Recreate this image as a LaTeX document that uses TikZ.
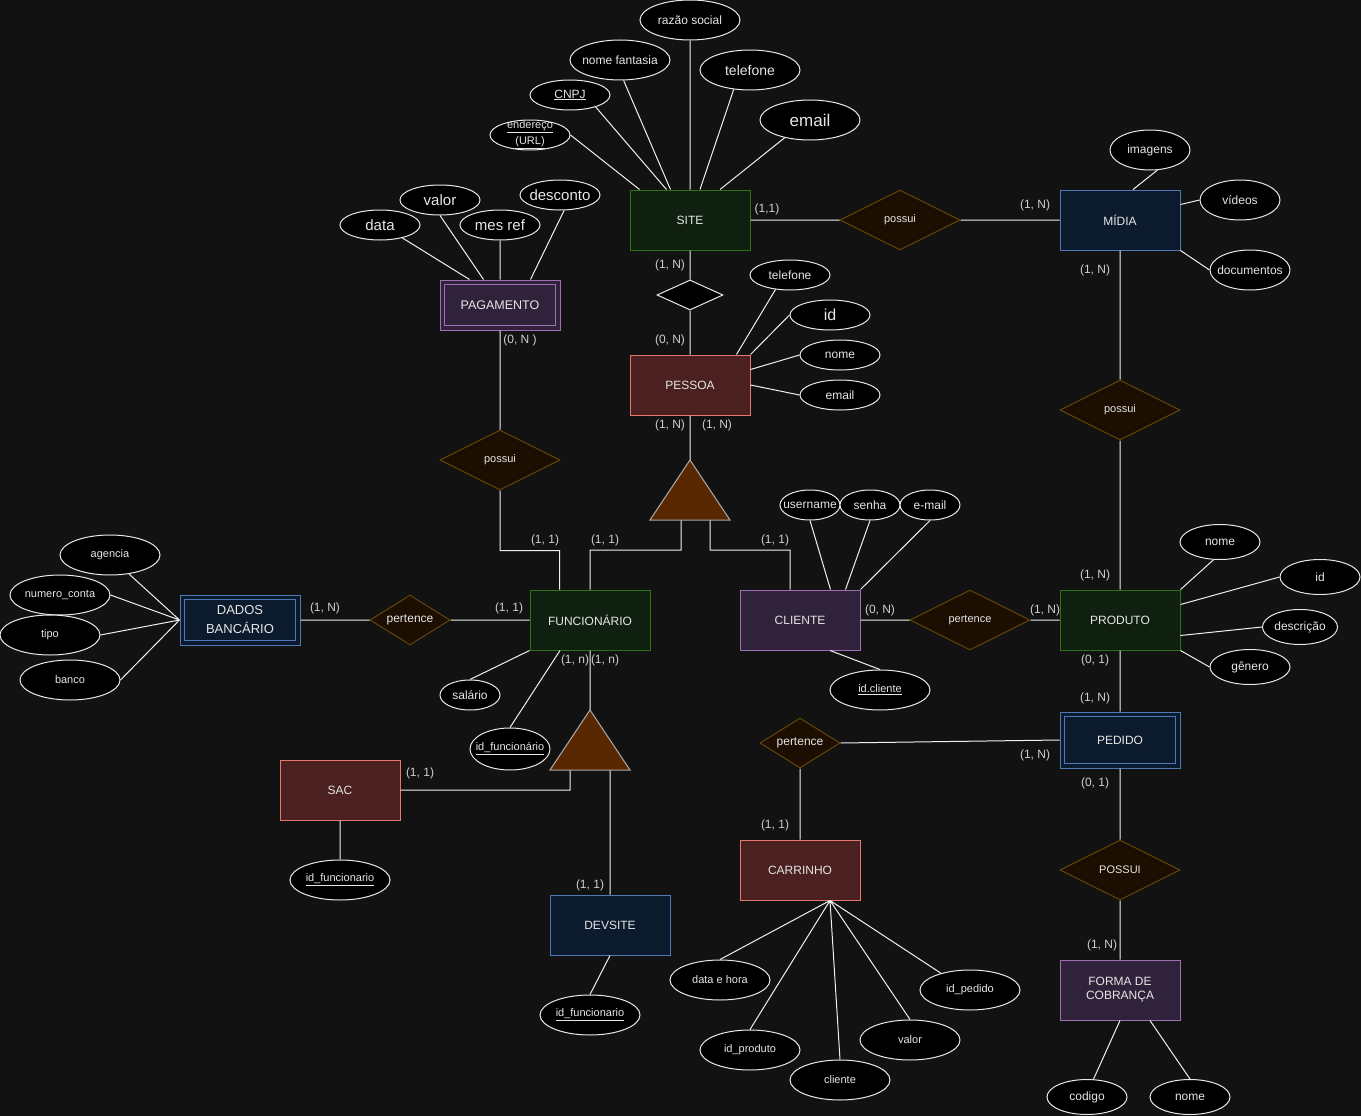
\documentclass[tikz,border=0pt]{standalone}
\usepackage{fontspec}
\setmainfont{Liberation Sans}
\usetikzlibrary{shapes.geometric}

\definecolor{bg}{HTML}{121212}
\definecolor{wire}{HTML}{F0F0F0}
\definecolor{ink}{HTML}{E6E6E6}
\definecolor{card}{HTML}{D0D0D0}
\definecolor{ellline}{HTML}{E8E8E8}
\definecolor{gfill}{HTML}{102010}\definecolor{gline}{HTML}{2D7314}
\definecolor{bfill}{HTML}{0C1A2E}\definecolor{bline}{HTML}{5078B4}
\definecolor{rfill}{HTML}{4A2020}\definecolor{rline}{HTML}{E6786E}
\definecolor{pfill}{HTML}{30223A}\definecolor{pline}{HTML}{A06EB4}
\definecolor{relfill}{HTML}{1C0E00}\definecolor{relline}{HTML}{64460A}
\definecolor{trifill}{HTML}{5A2800}\definecolor{triline}{HTML}{A8A8A8}

\newcommand{\fs}[1]{\fontsize{#1}{#1}\selectfont}

\begin{document}
\begin{tikzpicture}[x=1pt,y=-1pt,
  every node/.style={font=\fs{12}, text=ink},
  wireline/.style={draw=wire, line width=1pt},
  ent/.style={rectangle, line width=1pt, minimum width=120, minimum height=60, inner sep=0pt, align=center},
  entg/.style={ent, draw=gline, fill=gfill},
  entb/.style={ent, draw=bline, fill=bfill},
  entr/.style={ent, draw=rline, fill=rfill},
  entp/.style={ent, draw=pline, fill=pfill},
  attr/.style 2 args={ellipse, draw=ellline, fill=black, line width=1pt, inner sep=0pt, minimum width=#1, minimum height=#2},
  atext/.style={text=ink, inner sep=0pt},
  rel/.style 2 args={diamond, draw=relline, fill=relfill, line width=1pt, inner sep=0pt, minimum width=#1, minimum height=#2},
  tri/.style={draw=triline, fill=trifill, line width=1pt},
  cardlbl/.style={text=card, inner sep=0pt}
]
\fill[bg] (0,0) rectangle (1361,1116);
\useasboundingbox (0,0) rectangle (1361,1116);

% ---------- entities ----------
\node[entg] (site) at (690,220) {SITE};
\node[entb] (midia) at (1120,220) {MÍDIA};
\node[entr] (pessoa) at (690,385) {PESSOA};
\node[entp, minimum height=50, font=\fs{12.5}] (pag) at (500,305) {PAGAMENTO};
\node[entg] (func) at (590,620) {FUNCIONÁRIO};
\node[entp] (cliente) at (800,620) {CLIENTE};
\node[entg] (produto) at (1120,620) {PRODUTO};
\node[entb, minimum height=50] (dados) at (240,620) {\fs{13}DADOS\\[7pt]\fs{13}BANCÁRIO};
\node[entb, minimum height=56] (pedido) at (1120,740) {PEDIDO};
\node[entr] (sac) at (340,790) {SAC};
\node[entb] (dev) at (610,925) {DEVSITE};
\node[entr] (carr) at (800,870) {CARRINHO};
\node[entp] (forma) at (1120,990) {FORMA DE\\[2pt]COBRANÇA};

% inner borders of the weak entities
\draw[pline, line width=1pt] ([shift={(5pt,-5pt)}]pag.north west) rectangle ([shift={(-5pt,5pt)}]pag.south east);
\draw[bline, line width=1pt] ([shift={(5pt,-5pt)}]dados.north west) rectangle ([shift={(-5pt,5pt)}]dados.south east);
\draw[bline, line width=1pt] ([shift={(5pt,-5pt)}]pedido.north west) rectangle ([shift={(-5pt,5pt)}]pedido.south east);

% ---------- relationships ----------
\node[rel={120}{60}, label={[atext,font=\fs{11}]center:possui}] (possui1) at (900,220) {};
\node[rel={120}{60}, label={[atext,font=\fs{11}]center:possui}] (possui2) at (1120,410) {};
\node[rel={120}{60}, label={[atext,font=\fs{11}]center:possui}] (possuiPg) at (500,460) {};
\node[rel={120}{60}, label={[atext,font=\fs{11}]center:POSSUI}] (possui3) at (1120,870) {};
\node[rel={120}{60}, label={[atext,font=\fs{11}]center:pertence}] (pert2) at (970,620) {};
\node[rel={80}{50}, label={[atext]center:pertence}] (pert1) at (410,620) {};
\node[rel={80}{50}, label={[atext]center:pertence}] (pert3) at (800,743) {};
\node[diamond, draw=ellline, fill=black, line width=1pt, inner sep=0pt, minimum width=66, minimum height=30] (dia) at (690,295) {};

% ---------- specialisation triangles ----------
\coordinate (t1a) at (690,460);
\coordinate (t1l) at (650,520);
\coordinate (t1r) at (730,520);
\coordinate (t1fl) at (681,520);
\coordinate (t1fr) at (710,520);
\coordinate (t2a) at (590,710);
\coordinate (t2l) at (550,770);
\coordinate (t2r) at (630,770);
\coordinate (t2fl) at (570,770);
\coordinate (t2fr) at (610,770);

% ---------- attributes ----------
\node[attr={100}{40}, label={[atext]center:razão social}] (razao) at (690,20) {};
\node[attr={100}{40}, label={[atext]center:nome fantasia}] (fantasia) at (620,60) {};
\node[attr={100}{40}, label={[atext,font=\fs{14}]center:telefone}] (tel1) at (750,70) {};
\node[attr={80}{30}, label={[atext]center:\underline{CNPJ}}] (cnpj) at (570,95) {};
\node[attr={80}{30}, label={[atext,font=\fs{11},align=center]center:\underline{endereço}\\[3pt]\underline{(URL)}}] (url) at (530,135) {};
\node[attr={100}{40}, label={[atext,font=\fs{17}]center:email}] (email1) at (810,120) {};

\node[attr={80}{40}, label={[atext]center:imagens}] (imagens) at (1150,150) {};
\node[attr={80}{40}, label={[atext]center:vídeos}] (videos) at (1240,200) {};
\node[attr={80}{40}, label={[atext]center:documentos}] (docs) at (1250,270) {};

\node[attr={80}{30}, label={[atext,font=\fs{15}]center:data}] (dataPg) at (380,225) {};
\node[attr={80}{30}, label={[atext,font=\fs{15}]center:valor}] (valorPg) at (440,200) {};
\node[attr={80}{30}, label={[atext,font=\fs{15}]center:mes ref}] (mesref) at (500,225) {};
\node[attr={80}{30}, label={[atext,font=\fs{15}]center:desconto}] (desconto) at (560,195) {};

\node[attr={80}{30}, label={[atext]center:telefone}] (telP) at (790,275) {};
\node[attr={80}{30}, label={[atext,font=\fs{16}]center:id}] (idPe) at (830,315) {};
\node[attr={80}{30}, label={[atext]center:nome}] (nomePe) at (840,355) {};
\node[attr={80}{30}, label={[atext]center:email}] (emailPe) at (840,395) {};

\node[attr={60}{30}, label={[atext]center:username}] (username) at (810,505) {};
\node[attr={60}{30}, label={[atext]center:senha}] (senha) at (870,505) {};
\node[attr={60}{30}, label={[atext]center:e-mail}] (email2) at (930,505) {};
\node[attr={100}{40}, label={[atext,font=\fs{11}]center:\underline{id.cliente}}] (idcli) at (880,690) {};

\node[attr={80}{35}, label={[atext]center:nome}] (nomeP) at (1220,542) {};
\node[attr={80}{35}, label={[atext]center:id}] (idP) at (1320,577) {};
\node[attr={75}{35}, label={[atext]center:descrição}] (descP) at (1300,627) {};
\node[attr={80}{35}, label={[atext]center:gênero}] (genero) at (1250,667) {};

\node[attr={100}{40}, label={[atext,font=\fs{11}]center:agencia}] (agencia) at (110,555) {};
\node[attr={100}{40}, label={[atext,font=\fs{11}]center:numero\_conta}] (numconta) at (60,595) {};
\node[attr={100}{40}, label={[atext,font=\fs{11}]center:tipo}] (tipo) at (50,635) {};
\node[attr={100}{40}, label={[atext,font=\fs{11}]center:banco}] (banco) at (70,680) {};

\node[attr={60}{30}, label={[atext]center:salário}] (salario) at (470,695) {};
\node[attr={80}{42}, label={[atext,font=\fs{11}]center:\underline{id\_funcionário}}] (idfunc) at (510,749) {};
\node[attr={100}{40}, label={[atext,font=\fs{11}]center:\underline{id\_funcionario}}] (idsac) at (340,880) {};
\node[attr={100}{40}, label={[atext,font=\fs{11}]center:\underline{id\_funcionario}}] (iddev) at (590,1015) {};

\node[attr={100}{40}, label={[atext,font=\fs{11}]center:data e hora}] (datahora) at (720,980) {};
\node[attr={100}{40}, label={[atext,font=\fs{11}]center:id\_produto}] (idprod) at (750,1050) {};
\node[attr={100}{40}, label={[atext,font=\fs{11}]center:cliente}] (clienteA) at (840,1080) {};
\node[attr={100}{40}, label={[atext,font=\fs{11}]center:valor}] (valorC) at (910,1040) {};
\node[attr={100}{40}, label={[atext,font=\fs{11}]center:id\_pedido}] (idped) at (970,990) {};

\node[attr={80}{35}, label={[atext]center:codigo}] (codigo) at (1087,1097) {};
\node[attr={80}{35}, label={[atext]center:nome}] (nomeF) at (1190,1097) {};

% ---------- connectors ----------
\path[wireline]
  (site) -- (possui1)
  (possui1) -- (midia)
  (midia) -- (possui2)
  (possui2) -- (produto)
  (cliente) -- (pert2)
  (pert2) -- (produto)
  (produto) -- (pedido)
  (pert3.east) -- (pedido.west)
  (pert3) -- (carr)
  (pedido) -- (possui3)
  (possui3) -- (forma)
  (site) -- (dia)
  (dia) -- (pessoa)
  (pessoa.south) -- (t1a)
  (t1fl) -- ++(0,30) -| (func.north)
  (t1fr) -- ++(0,30) -| ([xshift=-10pt]cliente.north)
  (pag) -- (possuiPg)
  (possuiPg.south) -- ++(0,60) -| ([xshift=30pt]func.north west)
  (func) -- (pert1)
  (pert1) -- (dados)
  (func.south) -- (t2a)
  (t2fl) |- (sac.east)
  (t2fr) -- (dev.north);

% attribute links
\path[wireline]
  (url.east) -- ([xshift=10pt]site.north west)
  (cnpj.335) -- ([xshift=37pt]site.north west)
  (fantasia.280) -- ([xshift=41pt]site.north west)
  (razao) -- (site.north)
  (tel1.230) -- ([xshift=10pt]site.north)
  (email1.215) -- ([xshift=30pt]site.north)
  (imagens.290) -- ([xshift=13pt]midia.north)
  (videos.west) -- ([yshift=-15pt]midia.north east)
  (docs.west) -- (midia.south east)
  (dataPg.330) -- ([xshift=30pt]pag.north west)
  (valorPg.south) -- ([xshift=44pt]pag.north west)
  (mesref) -- (pag.north)
  (desconto.285) -- ([xshift=-30pt]pag.north east)
  (telP.225) -- ([xshift=-14pt]pessoa.north east)
  (idPe.west) -- (pessoa.north east)
  (nomePe.west) -- ([yshift=-15pt]pessoa.north east)
  (emailPe.west) -- (pessoa.east)
  (username.south) -- ([xshift=-30pt]cliente.north east)
  (senha.south) -- ([xshift=-15pt]cliente.north east)
  (email2.south) -- (cliente.north east)
  (idcli.north) -- ([xshift=30pt]cliente.south)
  (nomeP.250) -- (produto.north east)
  (idP.west) -- ([yshift=-15pt]produto.north east)
  (descP.west) -- ([yshift=15pt]produto.south east)
  (genero.west) -- (produto.south east)
  (agencia.315) -- (dados.west)
  (numconta.east) -- (dados.west)
  (tipo.east) -- (dados.west)
  (banco.east) -- (dados.west)
  (salario.north) -- (func.south west)
  (idfunc.north) -- ([xshift=-30pt]func.south)
  (idsac) -- (sac)
  (iddev.north) -- (dev.south)
  (datahora.north) -- ([xshift=30pt]carr.south)
  (idprod.north) -- ([xshift=30pt]carr.south)
  (clienteA.north) -- ([xshift=30pt]carr.south)
  (valorC.north) -- ([xshift=30pt]carr.south)
  (idped.150) -- ([xshift=30pt]carr.south)
  (codigo.70) -- (forma.south)
  (nomeF.north) -- ([xshift=30pt]forma.south);

\draw[tri] (t1a) -- (t1l) -- (t1r) -- cycle;
\draw[tri] (t2a) -- (t2l) -- (t2r) -- cycle;

% ---------- cardinalities ----------
\node[cardlbl] (c1) at (767,209) {(1,1)};
\node[cardlbl] (c2) at (1035,205) {(1, N)};
\node[cardlbl] (c3) at (1095,270) {(1, N)};
\node[cardlbl] (c4) at (1095,575) {(1, N)};
\node[cardlbl] (c5) at (1045,610) {(1, N)};
\node[cardlbl] (c6) at (880,610) {(0, N)};
\node[cardlbl] (c7) at (1095,660) {(0, 1)};
\node[cardlbl] (c8) at (1095,698) {(1, N)};
\node[cardlbl] (c9) at (1035,755) {(1, N)};
\node[cardlbl] (c10) at (775,825) {(1, 1)};
\node[cardlbl] (c11) at (1095,783) {(0, 1)};
\node[cardlbl] (c12) at (1102,945) {(1, N)};
\node[cardlbl] (c13) at (670,265) {(1, N)};
\node[cardlbl] (c14) at (670,340) {(0, N)};
\node[cardlbl] (c15) at (670,425) {(1, N)};
\node[cardlbl] (c16) at (717,425) {(1, N)};
\node[cardlbl] (c17) at (605,540) {(1, 1)};
\node[cardlbl] (c18) at (775,540) {(1, 1)};
\node[cardlbl] (c19) at (545,540) {(1, 1)};
\node[cardlbl] (c20) at (520,340) {(0, N )};
\node[cardlbl] (c21) at (509,608) {(1, 1)};
\node[cardlbl] (c22) at (325,608) {(1, N)};
\node[cardlbl] (c23) at (575,660) {(1, n)};
\node[cardlbl] (c24) at (605,660) {(1, n)};
\node[cardlbl] (c25) at (420,773) {(1, 1)};
\node[cardlbl] (c26) at (590,885) {(1, 1)};
\end{tikzpicture}
\end{document}
